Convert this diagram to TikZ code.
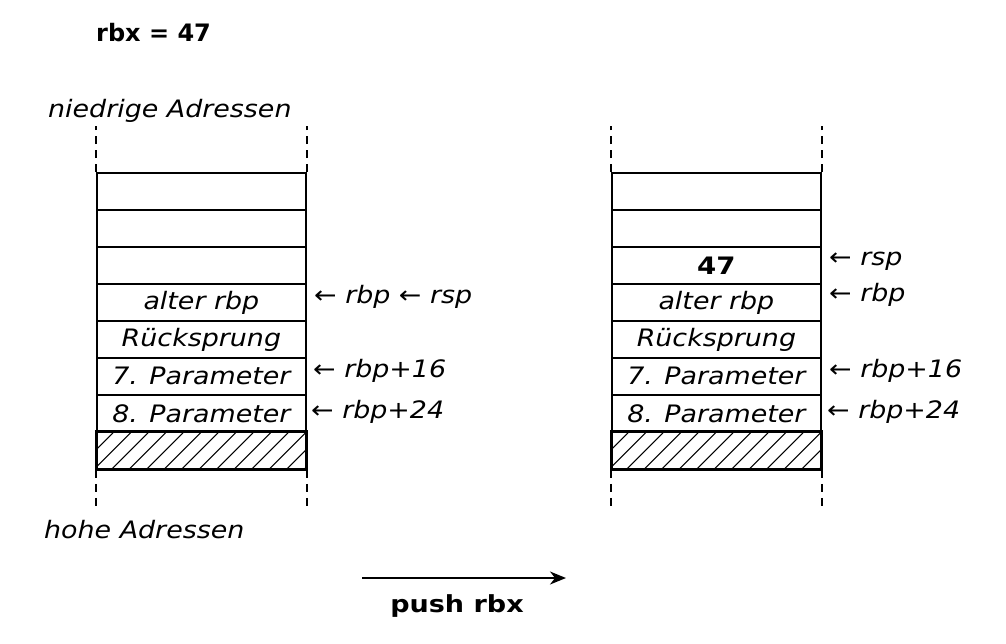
\documentclass[tikz,border=0pt]{standalone}
\usepackage{fontspec}
\setmainfont{DejaVu Sans}[FakeStretch=1.12]
\newfontfamily\plainbold{DejaVu Sans Bold}
\newfontfamily\widebold{DejaVu Sans Bold}[FakeStretch=1.15]
\usetikzlibrary{arrows.meta}
\begin{document}
\begin{tikzpicture}[x=1pt,y=-1pt,
  cell/.style={draw,line width=1.8pt,minimum width=209pt,minimum height=37pt,inner sep=0pt,
    font=\fontsize{24}{28}\selectfont\itshape,anchor=north west},
  ptr/.style={anchor=west,inner sep=0pt,font=\fontsize{24}{28}\selectfont\itshape},
  lbl/.style={anchor=west,inner sep=0pt,font=\fontsize{24}{28}\selectfont\itshape},
  guide/.style={line width=1.6pt,dash pattern=on 8pt off 6pt},
  hatch/.style={line width=1.1pt}]
\useasboundingbox (0,0) rectangle (1006,643);
\node[anchor=west,inner sep=0pt,font=\fontsize{24}{28}\selectfont\plainbold] (title) at (96,33) {rbx = 47};
\node[lbl] (low) at (48,111) {niedrige Adressen};
\node[lbl] (high) at (44,530) {hohe Adressen};
% left stack
\node[cell] (a1) at (96,172) {};
\node[cell] (a2) at (96,209) {};
\node[cell] (a3) at (96,246) {};
\node[cell] (a4) at (96,283) {alter rbp};
\node[cell] (a5) at (96,320) {Rücksprung};
\node[cell] (a6) at (96,357) {7. Parameter};
\node[cell] (a7) at (96,394) {8. Parameter};
\node[cell] (a8) at (96,431) {};
% right stack
\node[cell] (b1) at (611,172) {};
\node[cell] (b2) at (611,209) {};
\node[cell] (b3) at (611,246) {\upshape\widebold 47};
\node[cell] (b4) at (611,283) {alter rbp};
\node[cell] (b5) at (611,320) {Rücksprung};
\node[cell] (b6) at (611,357) {7. Parameter};
\node[cell] (b7) at (611,394) {8. Parameter};
\node[cell] (b8) at (611,431) {};
% hatching
\foreach \s in {a8,b8}{
  \begin{scope}
    \clip (\s.north west) rectangle (\s.south east);
    \foreach \i in {0,...,15}
      \draw[hatch] ([xshift=\i*17.5pt-20pt]\s.south west) -- ++(37,-37);
  \end{scope}
  \draw[line width=1.8pt] (\s.north west) rectangle (\s.south east);
}
% dashed guides
\foreach \s in {a,b}{
  \coordinate (\s tl) at ([yshift=46pt]\s1.north west);
  \coordinate (\s tr) at ([yshift=46pt]\s1.north east);
  \coordinate (\s bl) at ([yshift=-37pt]\s8.south west);
  \coordinate (\s br) at ([yshift=-37pt]\s8.south east);
  \draw[guide] (\s1.north west) -- (\s tl);
  \draw[guide] (\s1.north east) -- (\s tr);
  \draw[guide] (\s8.south west) -- (\s bl);
  \draw[guide] (\s8.south east) -- (\s br);
}
% pointers left
\node[ptr] (pa4) at (314,297) {← rbp ← rsp};
\node[ptr] (pa6) at (313,371) {← rbp+16};
\node[ptr] (pa7) at (311,412) {← rbp+24};
% pointers right
\node[ptr] (pb3) at (829,261) {← rsp};
\node[ptr] (pb4) at (829,295) {← rbp};
\node[ptr] (pb6) at (829,371) {← rbp+16};
\node[ptr] (pb7) at (827,412) {← rbp+24};
% push arrow
\coordinate (ps) at (362,578);
\coordinate (pe) at (566,578);
\draw[line width=1.6pt,-{Stealth[length=16pt,width=13pt,inset=5pt]}] (ps) -- (pe);
\node[inner sep=0pt,font=\fontsize{23.5}{28}\selectfont\widebold] (push) at (457,606) {push rbx};
\end{tikzpicture}
\end{document}
